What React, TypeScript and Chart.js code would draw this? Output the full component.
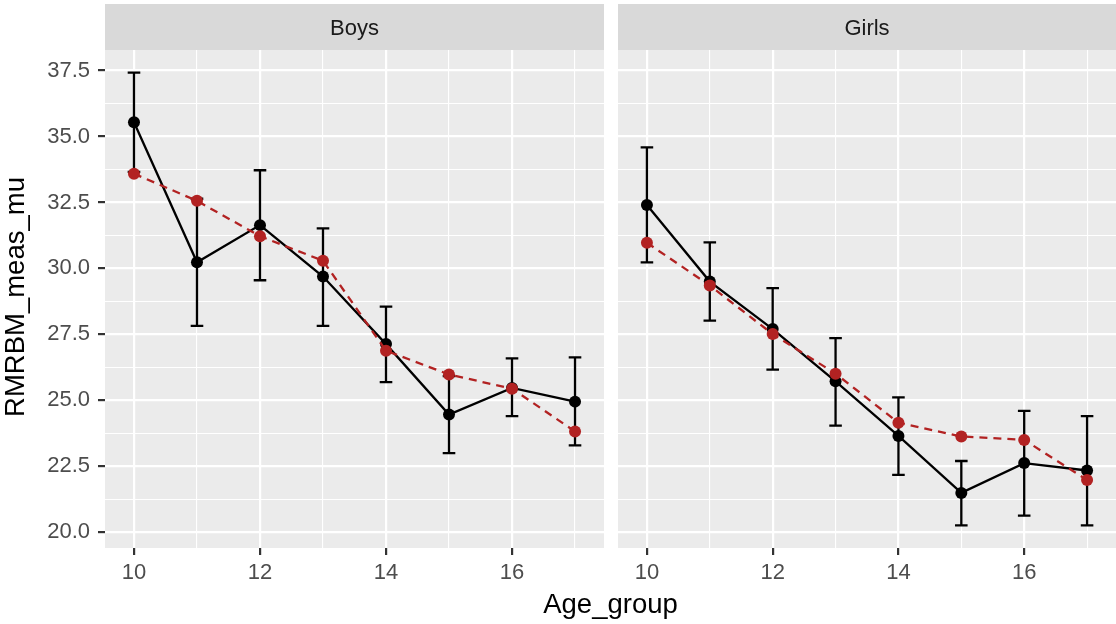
import React, { useEffect, useRef } from "react";
import { Chart, registerables } from "chart.js";

Chart.register(...registerables);

// ---------- data ----------
const ageGroups = [10, 11, 12, 13, 14, 15, 16, 17];

const boysMean = [35.54, 30.23, 31.64, 29.69, 27.13, 24.46, 25.47, 24.95];
const boysLower = [33.66, 27.82, 29.55, 27.82, 25.69, 23.0, 24.4, 23.29];
const boysUpper = [37.42, 32.64, 33.72, 31.52, 28.55, 25.92, 26.59, 26.63];
const boysFitted = [33.59, 32.56, 31.22, 30.29, 26.88, 25.98, 25.44, 23.82];

const girlsMean = [32.4, 29.5, 27.7, 25.72, 23.65, 21.49, 22.62, 22.34];
const girlsLower = [30.23, 28.02, 26.16, 24.04, 22.17, 20.26, 20.63, 20.26];
const girlsUpper = [34.59, 30.99, 29.25, 27.36, 25.11, 22.7, 24.6, 24.4];
const girlsFitted = [30.97, 29.35, 27.51, 26.01, 24.15, 23.63, 23.5, 21.98];

const xTickLabels = [10, 12, 14, 16];
const yTickLabels = [20, 22.5, 25, 27.5, 30, 32.5, 35, 37.5];

const panelTitles = ["Boys", "Girls"];
const xTitle = "Age_group";
const yTitle = "RMRBM_meas_mu";

// ---------- style ----------
const FONT = "'Liberation Sans', Arial, sans-serif";
const PANEL_BG = "#EBEBEB";
const STRIP_BG = "#D9D9D9";
const RED = "#B22222";
const ERR_W = 0.2;

// ggplot-like ranges (errorbars included, 5% expansion)
const allLow = [...boysLower, ...girlsLower];
const allHigh = [...boysUpper, ...girlsUpper];
const yLo = Math.min(...allLow);
const yHi = Math.max(...allHigh);
const yMin = yLo - (yHi - yLo) * 0.05;
const yMax = yHi + (yHi - yLo) * 0.05;
const xLo = Math.min(...ageGroups) - ERR_W / 2;
const xHi = Math.max(...ageGroups) + ERR_W / 2;
const xMin = xLo - (xHi - xLo) * 0.05;
const xMax = xHi + (xHi - xLo) * 0.05;

const yStep = yTickLabels[1] - yTickLabels[0];
const yAllTicks: number[] = [];
for (let i = 0; i < yTickLabels.length; i++) {
  yAllTicks.push(yTickLabels[i]);
  const m = yTickLabels[i] + yStep / 2;
  if (m < yMax) yAllTicks.push(m);
}
const xAllTicks: number[] = [];
for (let i = 0; i < xTickLabels.length; i++) {
  xAllTicks.push(xTickLabels[i]);
  const m = xTickLabels[i] + 1;
  if (m < xMax) xAllTicks.push(m);
}

const isMajorY = (v: number) => yTickLabels.some((t) => Math.abs(t - v) < 1e-6);
const isMajorX = (v: number) => xTickLabels.some((t) => Math.abs(t - v) < 1e-6);

type Panel = {
  title: string;
  mean: number[];
  lower: number[];
  upper: number[];
  fitted: number[];
};

function buildChart(canvas: HTMLCanvasElement, panel: Panel, isLeft: boolean) {
  const stripPlugin = {
    id: "strip",
    beforeDraw(chart: any) {
      const { ctx, chartArea } = chart;
      ctx.save();
      ctx.fillStyle = PANEL_BG;
      ctx.fillRect(chartArea.left, chartArea.top, chartArea.right - chartArea.left, chartArea.bottom - chartArea.top);
      ctx.fillStyle = STRIP_BG;
      ctx.fillRect(chartArea.left, 4, chartArea.right - chartArea.left, chartArea.top - 4);
      ctx.fillStyle = "#1A1A1A";
      ctx.font = `22px ${FONT}`;
      ctx.textAlign = "center";
      ctx.textBaseline = "alphabetic";
      ctx.fillText(panel.title, (chartArea.left + chartArea.right) / 2, 35);
      ctx.restore();
    },
  };

  const errorPlugin = {
    id: "errbars",
    beforeDatasetsDraw(chart: any) {
      const { ctx } = chart;
      const xs = chart.scales.x;
      const ys = chart.scales.y;
      ctx.save();
      ctx.strokeStyle = "#000000";
      ctx.lineWidth = 2.3;
      ctx.lineCap = "butt";
      for (let i = 0; i < ageGroups.length; i++) {
        const x = xs.getPixelForValue(ageGroups[i]);
        const xl = xs.getPixelForValue(ageGroups[i] - ERR_W / 2);
        const xr = xs.getPixelForValue(ageGroups[i] + ERR_W / 2);
        const yl = ys.getPixelForValue(panel.lower[i]);
        const yu = ys.getPixelForValue(panel.upper[i]);
        ctx.beginPath();
        ctx.moveTo(x, yl);
        ctx.lineTo(x, yu);
        ctx.moveTo(xl, yl);
        ctx.lineTo(xr, yl);
        ctx.moveTo(xl, yu);
        ctx.lineTo(xr, yu);
        ctx.stroke();
      }
      ctx.restore();
    },
  };

  const titlePlugin = {
    id: "titles",
    afterDraw(chart: any) {
      if (!isLeft) return;
      const { ctx } = chart;
      ctx.save();
      ctx.fillStyle = "#000000";
      ctx.font = `27.5px ${FONT}`;
      ctx.textAlign = "center";
      ctx.textBaseline = "alphabetic";
      ctx.fillText(xTitle, 610.5, 613);
      ctx.translate(23.5, 297);
      ctx.rotate(-Math.PI / 2);
      ctx.fillText(yTitle, 0, 0);
      ctx.restore();
    },
  };

  return new Chart(canvas, {
    type: "line",
    data: {
      datasets: [
        {
          label: "observed",
          data: ageGroups.map((a, i) => ({ x: a, y: panel.mean[i] })),
          borderColor: "#000000",
          backgroundColor: "#000000",
          borderWidth: 2.3,
          pointRadius: 6,
          pointBorderWidth: 0,
          pointBackgroundColor: "#000000",
          order: 2,
        },
        {
          label: "fitted",
          data: ageGroups.map((a, i) => ({ x: a, y: panel.fitted[i] })),
          borderColor: RED,
          backgroundColor: RED,
          borderWidth: 2.3,
          borderDash: [8, 6],
          pointRadius: 6,
          pointBorderWidth: 0,
          pointBackgroundColor: RED,
          order: 1,
        },
      ],
    },
    options: {
      animation: false,
      responsive: false,
      maintainAspectRatio: false,
      layout: {
        autoPadding: false,
        padding: { top: 50, right: isLeft ? 512 : 0, left: 0, bottom: 0 },
      },
      plugins: {
        legend: { display: false },
        tooltip: { enabled: false },
      },
      scales: {
        x: {
          type: "linear",
          min: xMin,
          max: xMax,
          afterBuildTicks: (axis: any) => {
            axis.ticks = xAllTicks.map((v) => ({ value: v }));
          },
          afterFit: (axis: any) => {
            axis.height = 76;
            axis.paddingLeft = 0;
            axis.paddingRight = 0;
          },
          border: { display: false },
          grid: {
            color: "#FFFFFF",
            lineWidth: (c: any) => (c.tick && isMajorX(c.tick.value) ? 2.2 : 1.1),
            tickColor: (c: any) => (c.tick && isMajorX(c.tick.value) ? "#333333" : "rgba(0,0,0,0)"),
            tickWidth: 2.2,
            tickLength: 7,
            drawTicks: true,
          },
          ticks: {
            autoSkip: false,
            maxRotation: 0,
            padding: 5,
            color: "#4D4D4D",
            font: { family: FONT, size: 22 },
            callback: (v: any) => (isMajorX(Number(v)) ? String(v) : ""),
          },
        },
        y: {
          type: "linear",
          min: yMin,
          max: yMax,
          afterBuildTicks: (axis: any) => {
            axis.ticks = yAllTicks.map((v) => ({ value: v }));
          },
          afterFit: (axis: any) => {
            axis.width = isLeft ? 105 : 14;
            axis.paddingTop = 0;
            axis.paddingBottom = 0;
          },
          border: { display: false },
          grid: {
            color: "#FFFFFF",
            lineWidth: (c: any) => (c.tick && isMajorY(c.tick.value) ? 2.2 : 1.1),
            tickColor: (c: any) => (c.tick && isMajorY(c.tick.value) ? "#333333" : "rgba(0,0,0,0)"),
            tickWidth: 2.2,
            tickLength: 7,
            drawTicks: isLeft,
          },
          ticks: {
            display: isLeft,
            autoSkip: false,
            padding: 8,
            color: "#4D4D4D",
            font: { family: FONT, size: 22 },
            callback: (v: any) => (isMajorY(Number(v)) ? Number(v).toFixed(1) : ""),
          },
        },
      },
    } as any,
    plugins: [stripPlugin, errorPlugin, titlePlugin],
  });
}

export default function App() {
  const leftRef = useRef<HTMLCanvasElement | null>(null);
  const rightRef = useRef<HTMLCanvasElement | null>(null);

  useEffect(() => {
    const panels: Panel[] = [
      { title: panelTitles[0], mean: boysMean, lower: boysLower, upper: boysUpper, fitted: boysFitted },
      { title: panelTitles[1], mean: girlsMean, lower: girlsLower, upper: girlsUpper, fitted: girlsFitted },
    ];
    const c1 = buildChart(leftRef.current!, panels[0], true);
    const c2 = buildChart(rightRef.current!, panels[1], false);
    return () => {
      c1.destroy();
      c2.destroy();
    };
  }, []);

  return (
    <div style={{ position: "absolute", left: 0, top: 0, width: 1116, height: 624, background: "#FFFFFF", overflow: "hidden" }}>
      <canvas
        ref={leftRef}
        width={1116}
        height={624}
        style={{ position: "absolute", left: 0, top: 0, width: 1116, height: 624 }}
      />
      <canvas
        ref={rightRef}
        width={512}
        height={624}
        style={{ position: "absolute", left: 604, top: 0, width: 512, height: 624 }}
      />
    </div>
  );
}
